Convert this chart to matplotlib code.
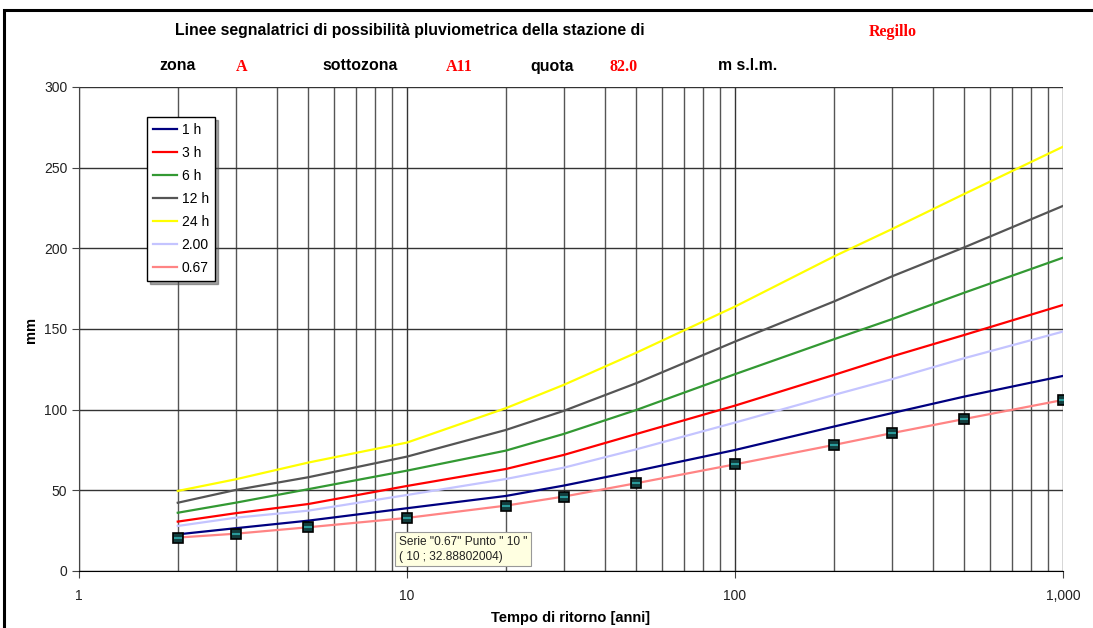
import matplotlib.pyplot as plt
from matplotlib.patches import Rectangle
from matplotlib.ticker import FixedLocator, FuncFormatter, NullFormatter

# Return periods (years)
T = [2, 3, 5, 10, 20, 30, 50, 100, 200, 300, 500, 1000]

# Rainfall depth (mm) for each duration / series
h_1h = [22.7, 26.5, 31.2, 38.9, 46.5, 52.9, 62.0, 75.0, 89.5, 97.8, 108.1, 120.9]
h_3h = [30.6, 35.8, 41.5, 52.7, 63.2, 71.9, 84.9, 102.5, 121.5, 132.9, 146.3, 164.9]
h_6h = [36.1, 42.3, 50.7, 62.2, 74.6, 84.9, 99.8, 122.0, 143.6, 156.0, 172.5, 194.2]
h_12h = [42.3, 50.2, 58.1, 70.9, 87.4, 99.2, 116.4, 142.2, 167.0, 182.5, 200.6, 226.3]
h_24h = [49.6, 56.8, 67.2, 79.6, 100.9, 115.3, 135.3, 163.9, 194.9, 211.8, 233.7, 263.0]
h_200 = [27.9, 33.0, 37.4, 47.1, 57.0, 64.0, 75.4, 92.0, 109.1, 118.8, 131.9, 148.4]
h_067 = [20.7, 23.1, 27.1, 32.88802004, 40.5, 46.1, 54.4, 66.1, 78.1, 85.4, 94.2, 106.0]

labels = ['1 h', '3 h', '6 h', '12 h', '24 h', '2.00', '0.67']
colors = ['#000080', '#ff0000', '#339933', '#555555', '#ffff00', '#c4c4ff', '#ff8484']
series = [h_1h, h_3h, h_6h, h_12h, h_24h, h_200, h_067]

plt.rcParams['font.family'] = ['Liberation Sans', 'DejaVu Sans']

fig = plt.figure(figsize=(10.93, 6.28), dpi=100)
ax = fig.add_axes([0.0723, 0.0908, 0.9003, 0.7707])

for vals, col, lab in zip(series, colors, labels):
    ax.plot(T, vals, color=col, lw=1.6, label=lab, zorder=3)

# selected-series markers on the 0.67 line
ax.plot(T, h_067, ls='none', marker='s', ms=6.5, mfc='#123c3c', mec='black',
        mew=1.2, zorder=4)
ax.plot(T, h_067, ls='none', marker='_', ms=5.5, mec='#2a9a9a', mew=1.5, zorder=5)

ax.set_xscale('log')
ax.set_xlim(1, 1000)
ax.set_ylim(0, 300)
ax.set_yticks(range(0, 301, 50))
ax.xaxis.set_major_locator(FixedLocator([1, 10, 100, 1000]))
ax.xaxis.set_major_formatter(FuncFormatter(lambda v, p: f'{int(round(v)):,}'))
ax.xaxis.set_minor_locator(FixedLocator(
    [m * d for d in (1, 10, 100) for m in range(2, 10)]))
ax.xaxis.set_minor_formatter(NullFormatter())

ax.grid(True, which='major', color='#333333', lw=1.0)
ax.grid(True, which='minor', axis='x', color='#555555', lw=1.0)
ax.set_axisbelow(True)

for s in ['top', 'right']:
    ax.spines[s].set_visible(False)
ax.spines['left'].set_color('#444444')
ax.spines['bottom'].set_color('black')
ax.tick_params(axis='both', which='major', length=5, color='#444444',
               labelsize=10, labelcolor='#222222')
ax.tick_params(axis='x', which='minor', length=0)
ax.tick_params(axis='x', pad=8)

ax.set_xlabel('Tempo di ritorno [anni]', fontweight='bold', fontsize=10.5)
ax.set_ylabel('mm', fontweight='bold', fontsize=10.5)
ax.xaxis.set_label_coords(0.5, -0.082)
ax.yaxis.set_label_coords(-0.042, 0.498)

leg = ax.legend(loc='upper left', bbox_to_anchor=(0.069, 0.938), frameon=True,
                fancybox=False, shadow=True, fontsize=10, handlelength=1.75,
                handletextpad=0.3, borderpad=0.45, labelspacing=0.64,
                borderaxespad=0)
leg.get_frame().set_edgecolor('black')
leg.get_frame().set_linewidth(1.0)

# tooltip for the selected point
ax.annotate('Serie "0.67" Punto " 10 "\n( 10 ; 32.88802004)', xy=(10, 32.888),
            xytext=(-6, -13), textcoords='offset points', ha='left', va='top',
            fontsize=8.6, color='#222222', linespacing=1.3,
            bbox=dict(boxstyle='square,pad=0.3', fc='#ffffe1', ec='#999999', lw=0.8),
            zorder=6)

# headings
bold = dict(fontweight='bold', fontsize=11.4, color='black', va='center')
red = dict(family='Liberation Serif', fontweight='bold', fontsize=11.5,
           color='#ff0000', va='center')
fig.text(175 / 1093, 1 - 31 / 628,
         'Linee segnalatrici di possibilità pluviometrica della stazione di', **bold)
fig.text(869 / 1093, 1 - 32 / 628, 'Regillo', **red)
fig.text(159 / 1093, 1 - 66 / 628, 'zona', **bold)
fig.text(236 / 1093, 1 - 67 / 628, 'A', **red)
fig.text(322 / 1093, 1 - 66 / 628, 'sottozona', **bold)
fig.text(446 / 1093, 1 - 67 / 628, 'A11', **red)
fig.text(530 / 1093, 1 - 66 / 628, 'quota', **bold)
fig.text(610 / 1093, 1 - 67 / 628, '82.0', **red)
fig.text(718 / 1093, 1 - 66 / 628, 'm s.l.m.', **bold)

# chart frame
fig.add_artist(Rectangle((4 / 1093, -0.1), 1.2, 1 - 10 / 628 + 0.1,
                         transform=fig.transFigure, fill=False,
                         ec='black', lw=2.2))

fig.savefig('out.png', dpi=100)
